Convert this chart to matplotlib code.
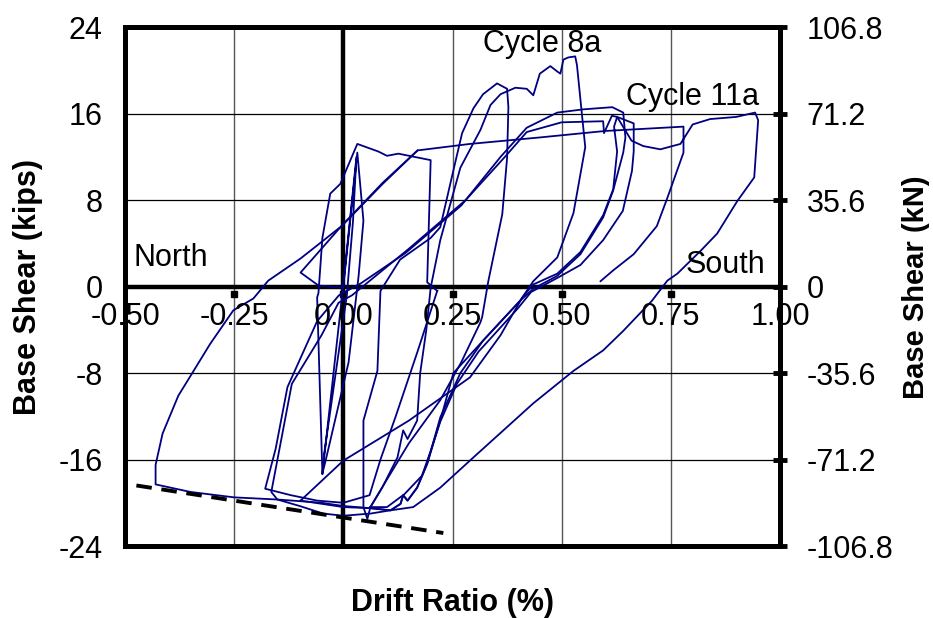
import matplotlib
matplotlib.use("Agg")
import matplotlib.pyplot as plt
import numpy as np

plt.rcParams['font.family'] = ['Liberation Sans', 'DejaVu Sans']

# drift ratio (%) / base shear (kips)
c1_x = [0.0, 0.032, 0.046, 0.035, 0.012, -0.040, -0.048, -0.002, 0.030, 0.022, 0.008, -0.044, -0.048]
c1_y = [0.0, 12.4, 6.1, 1.0, -7.0, -16.0, -17.3, -0.5, 12.0, 6.0, -0.8, -15.5, -17.3]

c2_x = [-0.048, -0.060, -0.057, -0.048, -0.030, -0.007, 0.032, 0.080, 0.100, 0.126, 0.200, 0.192, 0.215]
c2_y = [-17.3, -1.0, -0.6, 4.5, 8.6, 9.5, 13.2, 12.5, 12.1, 12.3, 11.7, 0.4, -0.4]

c3_x = [0.215, 0.17, 0.12, 0.085, 0.06, 0.0, -0.06, -0.12, -0.179, -0.155, -0.128, -0.06, -0.010,
        0.04, 0.142, 0.27, 0.36, 0.42, 0.49, 0.55, 0.616, 0.641, 0.646, 0.641, 0.618, 0.595, 0.543,
        0.49, 0.435, 0.405, 0.32, 0.268, 0.222, 0.192, 0.169, 0.147, 0.137, 0.131, 0.108, 0.062]
c3_y = [-0.4, -6.0, -12.0, -16.0, -19.3, -20.0, -19.8, -19.3, -18.7, -15.0, -9.3, -3.2, -0.8,
        0.3, 3.1, 7.5, 12.0, 14.7, 16.1, 16.4, 16.6, 16.1, 13.8, 12.4, 8.9, 6.4, 3.0,
        1.0, -0.2, -1.3, -5.0, -8.0, -12.1, -16.4, -18.6, -19.8, -19.3, -20.1, -20.7, -20.5]

c4_x = [0.062, 0.0, -0.05, -0.151, -0.165, -0.118, -0.05, -0.011, 0.02, 0.15, 0.28, 0.37, 0.42,
        0.50, 0.595, 0.597, 0.615, 0.627, 0.665, 0.665, 0.661, 0.64, 0.595, 0.543, 0.49, 0.43,
        0.40, 0.31, 0.26, 0.222, 0.20, 0.18, 0.14, 0.10, 0.062]
c4_y = [-20.5, -20.3, -20.0, -19.7, -19.0, -9.0, -4.5, -1.5, -0.8, 3.5, 8.0, 12.0, 14.3,
        15.2, 15.3, 14.2, 15.8, 15.7, 15.1, 12.5, 10.7, 7.0, 4.3, 2.0, 0.8, -0.5,
        -2.0, -6.0, -9.0, -12.5, -15.2, -17.5, -19.2, -20.4, -20.4]

c5_x = [0.062, 0.055, 0.046, 0.046, 0.078, 0.085, 0.13, 0.20, 0.222, 0.25, 0.272, 0.298, 0.32,
        0.352, 0.375, 0.378, 0.375, 0.364, 0.332, 0.318, 0.314, 0.27, 0.222, 0.15, 0.09, 0.062]
c5_y = [-20.4, -21.5, -20.4, -12.4, -7.8, -0.4, 2.5, 4.5, 5.5, 10.4, 14.2, 16.5, 17.8,
        18.8, 18.3, 16.6, 11.9, 6.7, 0.5, -2.8, -3.3, -7.0, -10.5, -14.5, -18.5, -20.4]

c6_x = [0.062, 0.089, 0.124, 0.137, 0.147, 0.169, 0.176, 0.19, 0.20, 0.222, 0.268, 0.314, 0.337,
        0.36, 0.394, 0.42, 0.435, 0.45, 0.474, 0.49, 0.497, 0.504, 0.515, 0.531, 0.535, 0.554,
        0.527, 0.49, 0.435, 0.405, 0.32, 0.252, 0.222, 0.192, 0.169, 0.147, 0.137, 0.131, 0.108,
        0.062, 0.0, -0.098]
c6_y = [-20.4, -18.6, -15.8, -13.3, -14.1, -12.4, -8.0, -4.0, -0.1, 4.3, 11.0, 14.5, 16.8,
        17.8, 18.4, 18.3, 17.7, 19.7, 20.4, 19.9, 19.7, 21.0, 21.2, 21.3, 20.5, 12.9,
        6.8, 2.7, 0.5, -1.3, -5.0, -8.0, -12.4, -16.4, -18.6, -19.8, -19.3, -20.1, -20.7,
        -20.5, -20.4, -19.8]

c7_x = [-0.098, 0.0, 0.15, 0.29, 0.36, 0.41, 0.435, 0.49, 0.543, 0.595, 0.618, 0.627, 0.620, 0.627,
        0.66, 0.687, 0.726, 0.772, 0.80, 0.84, 0.90, 0.943, 0.95, 0.941, 0.902, 0.856, 0.818,
        0.765, 0.742, 0.707, 0.641, 0.595, 0.527, 0.435, 0.298, 0.222, 0.16, 0.108, 0.062, 0.0,
        -0.046, -0.10, -0.151, -0.25, -0.35, -0.43, -0.43, -0.414, -0.378, -0.346, -0.305,
        -0.252, -0.206, -0.172, -0.098, -0.007, 0.09, 0.17, 0.29, 0.45, 0.60, 0.779, 0.779,
        0.742, 0.718, 0.665, 0.618, 0.589]
c7_y = [-19.8, -16.1, -12.4, -8.4, -4.5, -1.0, 0.2, 1.2, 3.2, 6.6, 9.0, 12.5, 14.8, 15.7,
        13.5, 13.0, 12.7, 13.2, 15.0, 15.5, 15.7, 16.1, 15.4, 10.1, 7.9, 4.9, 3.3,
        1.2, 0.55, -1.3, -4.1, -5.9, -7.8, -10.8, -15.8, -18.6, -20.4, -20.7, -21.0, -21.2,
        -21.0, -20.3, -19.7, -19.5, -19.0, -18.3, -16.5, -13.6, -10.1, -8.0, -5.3,
        -2.2, -1.1, 0.55, 2.6, 5.5, 9.6, 12.6, 13.2, 13.8, 14.4, 14.8, 12.4,
        8.2, 5.6, 3.0, 1.5, 0.5]

# short zigzag near the origin
zz_x = [0.0, -0.057, -0.098, -0.011, 0.09, 0.17]
zz_y = [-0.1, 0.1, 1.3, 5.3, 9.5, 12.6]

cycles = [(c1_x, c1_y), (c2_x, c2_y), (c3_x, c3_y), (c4_x, c4_y), (c5_x, c5_y),
          (c6_x, c6_y), (c7_x, c7_y), (zz_x, zz_y)]

# dashed strength-degradation line
env_x = [-0.474, 0.229]
env_y = [-18.4, -22.8]

x_ticks = [-0.50, -0.25, 0.00, 0.25, 0.50, 0.75, 1.00]
y_ticks = [-24, -16, -8, 0, 8, 16, 24]
kn_ticks = [-106.8, -71.2, -35.6, 0, 35.6, 71.2, 106.8]
kn_labels = ["-106.8", "-71.2", "-35.6", "0", "35.6", "71.2", "106.8"]

fs = 22

fig = plt.figure(figsize=(9.33, 6.18), dpi=100)
ax = fig.add_axes([0.134, 0.1165, 0.702, 0.8395])
ax.set_xlim(-0.5, 1.0)
ax.set_ylim(-24, 24)

# grid
for xv in x_ticks[1:-1]:
    ax.axvline(xv, color='#555555', lw=1.0, zorder=1)
for yv in y_ticks[1:-1]:
    ax.axhline(yv, color='black', lw=0.9, zorder=1)
ax.axvline(0, color='black', lw=3.2, zorder=2)
ax.axhline(0, color='black', lw=3.2, zorder=2)

# small tick marks hanging under the zero line
ax.plot(x_ticks[1:-1], [-0.7] * 5, ls='none', marker='s', ms=4, color='black', zorder=2)

for xs, ys in cycles:
    ax.plot(xs, ys, color='#000080', lw=1.3, zorder=3)

ax.plot(env_x, env_y, color='black', lw=2.8, ls=(0, (4, 2.5)), zorder=3)

for spine in ax.spines.values():
    spine.set_linewidth(3.6)

ax.set_xticks([])
ax.set_yticks(y_ticks)
ax.set_yticklabels([str(v) for v in y_ticks], fontsize=fs)
ax.tick_params(axis='y', length=0, pad=16)

for xv in x_ticks:
    ax.text(xv, -2.8, f"{xv:.2f}", ha='center', va='center', fontsize=fs, zorder=4)

ax.text(-0.396, 2.6, "North", ha='center', va='center', fontsize=fs, zorder=4)
ax.text(0.875, 2.0, "South", ha='center', va='center', fontsize=fs, zorder=4)
ax.text(0.456, 22.4, "Cycle 8a", ha='center', va='center', fontsize=fs, zorder=4)
ax.text(0.80, 17.5, "Cycle 11a", ha='center', va='center', fontsize=fs, zorder=4)

fig.text(0.485, 0.024, "Drift Ratio (%)", ha='center', va='center', fontsize=fs, fontweight='bold')
fig.text(0.030, 0.536, "Base Shear (kips)", ha='center', va='center', rotation=90,
         fontsize=fs, fontweight='bold')
fig.text(0.982, 0.536, "Base Shear (kN)", ha='center', va='center', rotation=90,
         fontsize=21, fontweight='bold')

ax2 = ax.twinx()
ax2.set_ylim(-106.8, 106.8)
ax2.set_yticks(kn_ticks)
ax2.set_yticklabels(kn_labels, fontsize=fs)
ax2.tick_params(axis='y', direction='inout', length=10, width=3.5, pad=14)
for spine in ax2.spines.values():
    spine.set_linewidth(3.6)

fig.savefig("out.png", dpi=100)
